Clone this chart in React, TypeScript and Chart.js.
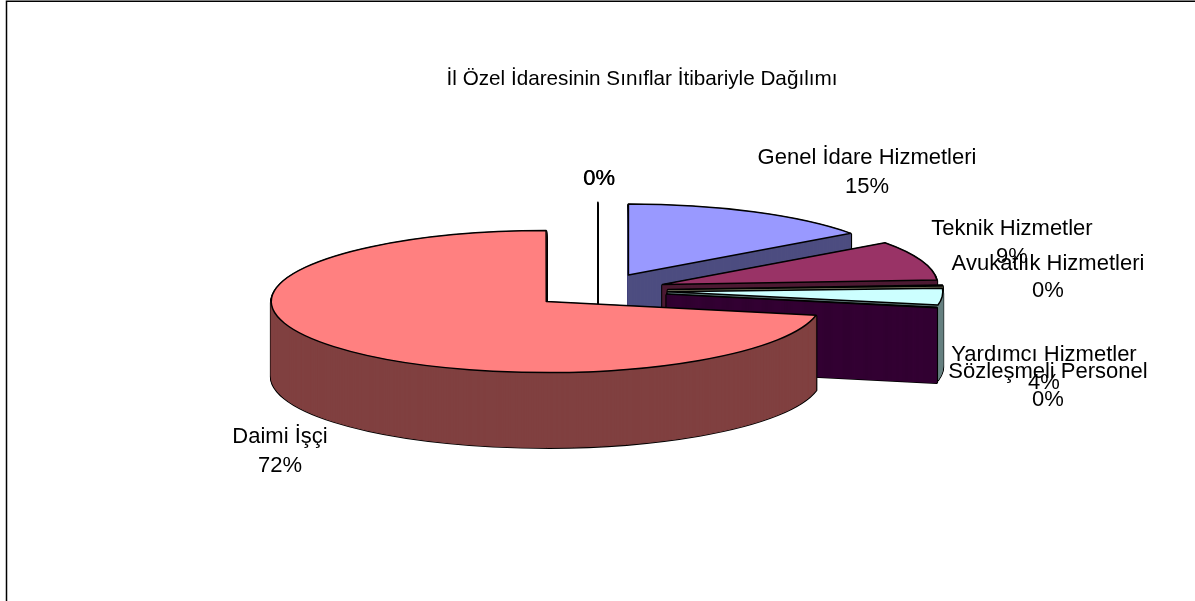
import React, { useEffect, useRef } from "react";
import { Chart, registerables } from "chart.js";

Chart.register(...registerables);

const categories = [
  "Genel İdare Hizmetleri",
  "Teknik Hizmetler",
  "Avukatlık Hizmetleri",
  "Yardımcı Hizmetler",
  "Sözleşmeli Personel",
  "Daimi İşçi",
  "",
];
const shares = [15.0, 9.0, 0.2, 3.8, 0.1, 71.89, 0.01];
const percentLabels = ["15%", "9%", "0%", "4%", "0%", "72%", "0%"];
const titleText = "İl Özel İdaresinin Sınıflar İtibariyle Dağılımı";

const topColors = ["#9999FF", "#993366", "#FFFFCC", "#CCFFFF", "#660066", "#FF8080", "#0066CC"];
const wallColors = ["#4D4D80", "#4D1A33", "#808066", "#668080", "#330033", "#804040", "#000000"];
// centre of each two-line label: x, y of name, y of percent
const labelAnchors = [
  [867, 158, 187],
  [1012, 229, 257],
  [1048, 264, 291],
  [1044, 355, 383],
  [1048, 372, 400],
  [280, 437, 466],
  [599, 0, 179],
];
const drawOrder = [6, 0, 1, 2, 3, 4, 5];
const explodeBy = [67, 68.5, 70, 70, 70, 67, 67];

const RADIUS = 275;
const SQUASH = 71 / 275;
const DEPTH = 75;

const pie3d = {
  id: "pie3d",
  beforeDraw(chart: any) {
    const c = chart.ctx;
    c.save();
    c.fillStyle = "#fff";
    c.fillRect(0, 0, chart.width, chart.height);
    c.strokeStyle = "#000";
    c.lineWidth = 1.5;
    c.beginPath();
    c.moveTo(6.5, chart.height);
    c.lineTo(6.5, 1.2);
    c.lineTo(chart.width, 1.2);
    c.stroke();
    c.restore();
  },
  beforeDatasetDraw(chart: any) {
    const c = chart.ctx;
    const arcs = chart.getDatasetMeta(0).data;
    const protoStroke = c.stroke;
    c.stroke = function () {
      c.save();
      c.setTransform(1, 0, 0, 1, 0, 0);
      protoStroke.call(c);
      c.restore();
    };
    const paint = (i: number, fill: string, edge: string, width: number, dy: number) => {
      const arc = arcs[i];
      const mid = (arc.startAngle + arc.endAngle) / 2;
      const base = arc.options;
      arc.options = {
        backgroundColor: fill,
        borderColor: edge,
        borderWidth: width,
        borderAlign: "center",
        borderJoinStyle: "round",
        borderDash: [],
        borderDashOffset: 0,
        spacing: 0,
        offset: 0,
        circular: true,
      };
      c.save();
      c.translate(arc.x, arc.y + dy);
      c.scale(1, SQUASH);
      c.translate(-arc.x, -arc.y);
      c.translate(Math.cos(mid) * explodeBy[i], Math.sin(mid) * explodeBy[i]);
      arc.draw(c);
      c.restore();
      arc.options = base;
    };
    const clear = "rgba(0,0,0,0)";
    drawOrder.forEach((i) => {
      const hairline = shares[i] < 0.05;
      for (let d = DEPTH; d >= 1; d--) paint(i, clear, "#000", hairline ? 1.5 : 2.6, d);
      if (!hairline) {
        for (let d = DEPTH; d >= 1; d--) paint(i, wallColors[i], wallColors[i], 1, d);
      }
      paint(i, topColors[i], "#000", 1.5, 0);
    });
    delete c.stroke;
    return false;
  },
  afterDraw(chart: any) {
    const c = chart.ctx;
    c.save();
    c.fillStyle = "#000";
    c.textAlign = "center";
    c.textBaseline = "middle";
    c.font = '20.7px "Liberation Sans"';
    c.fillText(titleText, 642, 79);
    c.font = '22px "Liberation Sans"';
    categories.forEach((name, i) => {
      const [x, y1, y2] = labelAnchors[i];
      if (name) c.fillText(name, x, y1);
      c.fillText(percentLabels[i], x, y2);
      if (!name) c.fillText(percentLabels[i], x + 0.5, y2);
    });
    c.restore();
  },
};

export default function App() {
  const ref = useRef<HTMLCanvasElement>(null);
  useEffect(() => {
    document.body.style.margin = "0";
    const chart = new Chart(ref.current as HTMLCanvasElement, {
      type: "pie",
      data: {
        labels: categories,
        datasets: [{ data: shares, backgroundColor: topColors, clip: false } as any],
      },
      options: {
        responsive: false,
        animation: false,
        radius: RADIUS,
        rotation: 0,
        layout: { padding: { left: 1, bottom: 20 } },
        plugins: { legend: { display: false }, title: { display: false }, tooltip: { enabled: false } },
      } as any,
      plugins: [pie3d],
    });
    return () => chart.destroy();
  }, []);
  return <canvas ref={ref} width={1195} height={601} style={{ display: "block" }} />;
}
